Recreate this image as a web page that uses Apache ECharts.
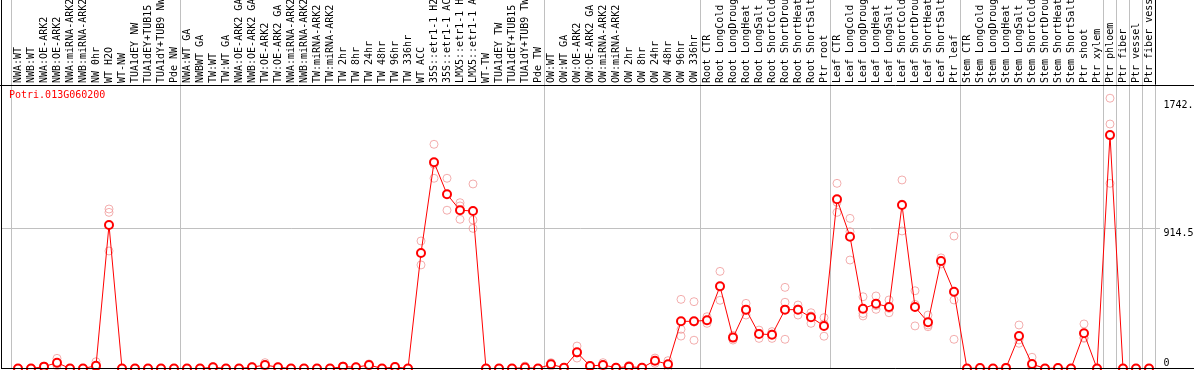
<!DOCTYPE html>
<html>
<head>
<meta charset="utf-8">
<script src="https://cdn.jsdelivr.net/npm/echarts@6/dist/echarts.min.js"></script>
<style>
html, body { margin: 0; padding: 0; background: #fff; }
#main { width: 1194px; height: 370px; }
</style>
</head>
<body>
<div id="main"></div>
<script>
var gene = 'Potri.013G060200';

var samples = [
  'NWA:WT', 'NWB:WT', 'NWA:OE-ARK2', 'NWB:OE-ARK2', 'NWA:miRNA-ARK2', 'NWB:miRNA-ARK2',
  'NW 0hr', 'WT H2O', 'WT-NW', 'TUA1dEY NW', 'TUA1dEY+TUB15 NW', 'TUA1dY+TUB9 NW', 'Pde NW',
  'NWA:WT GA', 'NWBWT GA', 'TW:WT', 'TW:WT GA', 'NWA:OE-ARK2 GA', 'NWB:OE-ARK2 GA',
  'TW:OE-ARK2', 'TW:OE-ARK2 GA', 'NWA:miRNA-ARK2 GA', 'NWB:miRNA-ARK2 GA', 'TW:miRNA-ARK2',
  'TW:miRNA-ARK2 GA', 'TW 2hr', 'TW 8hr', 'TW 24hr', 'TW 48hr', 'TW 96hr', 'TW 336hr', 'WT ACC',
  '35S::etr1-1 H2O', '35S::etr1-1 ACC', 'LMX5::etr1-1 H2O', 'LMX5::etr1-1 ACC', 'WT-TW',
  'TUA1dEY TW', 'TUA1dEY+TUB15 TW', 'TUA1dY+TUB9 TW', 'Pde TW',
  'OW:WT', 'OW:WT GA', 'OW:OE-ARK2', 'OW:OE-ARK2 GA', 'OW:miRNA-ARK2', 'OW:miRNA-ARK2 GA',
  'OW 2hr', 'OW 8hr', 'OW 24hr', 'OW 48hr', 'OW 96hr', 'OW 336hr',
  'Root CTR', 'Root LongCold', 'Root LongDrought', 'Root LongHeat', 'Root LongSalt',
  'Root ShortCold', 'Root ShortDrought', 'Root ShortHeat', 'Root ShortSalt', 'Ptr root',
  'Leaf CTR', 'Leaf LongCold', 'Leaf LongDrought', 'Leaf LongHeat', 'Leaf LongSalt',
  'Leaf ShortCold', 'Leaf ShortDrought', 'Leaf ShortHeat', 'Leaf ShortSalt', 'Ptr leaf',
  'Stem CTR', 'Stem LongCold', 'Stem LongDrought', 'Stem LongHeat', 'Stem LongSalt',
  'Stem ShortCold', 'Stem ShortDrought', 'Stem ShortHeat', 'Stem ShortSalt', 'Ptr shoot', 'Ptr xylem',
  'Ptr phloem', 'Ptr fiber', 'Ptr vessel', 'Ptr fiber vessel'
];

// samples per experiment block (gray separators)
var groupSizes = [13, 28, 12, 10, 10, 11, 1, 1, 1, 1];

var means = [
  0, 0, 12, 38, 0, 0, 18, 934, 0, 0, 0, 0, 0,
  0, 0, 8, 0, 0, 8, 23, 8, 0, 0, 0, 0, 12, 8, 23, 0, 10, 0, 752, 1342, 1134, 1030, 1025, 0, 0, 0, 6, 0,
  27, 5, 105, 16, 23, 5, 12, 5, 51, 27, 307, 307,
  314, 535, 201, 383, 225, 220, 383, 383, 333, 277,
  1101, 858, 389, 422, 400, 1064, 400, 301, 700, 499,
  0, 3, 0, 4, 211, 29, 0, 3, 0, 229, 0,
  1519, 0, 0, 0
];

var rep1 = [
  0, 0, 15, 66, 0, 0, 44, 1038, 0, 0, 0, 0, 0,
  0, 0, 12, 0, 0, 12, 38, 10, 0, 0, 0, 0, 16, 10, 30, 0, 14, 0, 830, 1459, 1238, 1079, 1201, 0, 0, 0, 16, 0,
  38, 8, 146, 20, 38, 8, 20, 8, 68, 51, 450, 435,
  337, 632, 215, 424, 250, 240, 528, 413, 363, 331,
  1205, 977, 467, 472, 446, 1227, 506, 348, 720, 862,
  0, 6, 0, 8, 283, 73, 0, 6, 0, 290, 0,
  1759, 0, 0, 0
];

var rep2 = [
  0, 0, 10, 30, 0, 0, 6, 1016, 0, 0, 0, 0, 0,
  0, 0, 8, 0, 0, 8, 20, 8, 0, 0, 0, 0, 12, 8, 23, 0, 10, 0, 752, 1329, 1134, 1058, 966, 0, 0, 0, 2, 0,
  27, 5, 101, 16, 20, 5, 12, 5, 51, 25, 255, 302,
  311, 530, 200, 378, 229, 224, 431, 388, 342, 290,
  1082, 890, 358, 409, 391, 1070, 417, 283, 700, 446,
  0, 3, 0, 4, 186, 10, 0, 3, 0, 201, 0,
  1591, 0, 0, 0
];

var rep3 = [
  0, 0, 11, 18, 0, 0, 4, 765, 0, 0, 0, 0, 0,
  0, 0, 4, 0, 0, 4, 11, 6, 0, 0, 0, 0, 8, 6, 16, 0, 6, 0, 674, 1238, 1030, 971, 912, 0, 0, 0, 0, 0,
  16, 2, 68, 12, 11, 2, 4, 2, 34, 5, 211, 184,
  294, 444, 185, 348, 196, 196, 190, 348, 294, 210,
  1016, 706, 342, 385, 363, 895, 277, 272, 680, 190,
  0, 0, 0, 0, 164, 4, 0, 0, 0, 196, 0,
  1205, 0, 0, 0
];

var yMax = 1845;
var yTicks = [0, 914.5, 1742.9];
var yTickText = ['0', '914.5', '1742.'];

var bounds = [0];
var acc = 0;
for (var g = 0; g < groupSizes.length; g++) {
  acc += groupSizes[g];
  bounds.push(acc);
}
function isBound(idx) {
  return bounds.indexOf(idx) >= 0;
}
function tickText(v) {
  for (var k = 0; k < yTicks.length; k++) {
    if (Math.abs(yTicks[k] - v) < 0.01) return yTickText[k];
  }
  return '';
}

var repData = [];
for (var i = 0; i < samples.length; i++) {
  repData.push([i, rep1[i]]);
  repData.push([i, rep2[i]]);
  repData.push([i, rep3[i]]);
}

var mono = 'DejaVu Sans Mono';
var gray = '#c0c0c0';

var myChart = echarts.init(document.getElementById('main'));

var option = {
  animation: false,
  backgroundColor: '#fff',
  title: {
    text: gene,
    left: 9,
    top: 90,
    padding: 0,
    textStyle: { color: '#ff0000', fontSize: 10, fontFamily: mono, fontWeight: 'normal' }
  },
  grid: [
    { left: 11.5, right: 38.5, top: 0, height: 85, outerBoundsMode: 'none' },
    { left: 11.5, right: 38.5, top: 85, bottom: 1.5, outerBoundsMode: 'none' },
    { left: 1.5, right: 34, top: 85, bottom: 1.5, outerBoundsMode: 'none' }
  ],
  xAxis: [
    {
      gridIndex: 0, type: 'category', data: samples, boundaryGap: true,
      axisLine: { show: false }, axisTick: { show: false }, axisLabel: { show: false },
      splitLine: { show: true, interval: isBound, lineStyle: { color: gray, width: 1 } }
    },
    {
      gridIndex: 1, type: 'category', data: samples, boundaryGap: true, position: 'top',
      axisLine: { show: false }, axisTick: { show: false },
      axisLabel: {
        interval: 0, rotate: 90, margin: 2, color: '#000',
        fontFamily: mono, fontSize: 10, hideOverlap: false
      },
      splitLine: { show: true, interval: isBound, lineStyle: { color: gray, width: 1 } }
    },
    {
      gridIndex: 2, type: 'value', min: 0, max: 1,
      axisLine: { show: false }, axisTick: { show: false }, axisLabel: { show: false },
      splitLine: { show: false }
    }
  ],
  yAxis: [
    {
      gridIndex: 0, type: 'value', min: 0, max: 1, position: 'right',
      axisLine: { show: true, lineStyle: { color: '#000' } },
      axisTick: { show: false }, axisLabel: { show: false }, splitLine: { show: false }
    },
    {
      gridIndex: 1, type: 'value', min: 0, max: yMax, position: 'right',
      axisLine: { show: true, lineStyle: { color: gray } },
      axisTick: { show: false }, splitLine: { show: false },
      axisLabel: {
        customValues: yTicks.slice(1), formatter: tickText, margin: 8,
        verticalAlign: 'top', color: '#000', fontFamily: mono, fontSize: 10
      }
    },
    {
      gridIndex: 1, type: 'value', min: 0, max: yMax, position: 'right',
      axisLine: { show: false }, axisTick: { show: false }, splitLine: { show: false },
      axisLabel: {
        customValues: yTicks.slice(0, 1), formatter: tickText, margin: 8,
        verticalAlign: 'bottom', color: '#000', fontFamily: mono, fontSize: 10
      }
    },
    {
      gridIndex: 2, type: 'value', min: 0, max: yMax, interval: yTicks[1],
      axisLine: { show: false }, axisTick: { show: false }, axisLabel: { show: false },
      splitLine: { show: true, lineStyle: { color: ['rgba(0,0,0,0)', gray], width: 1 } }
    }
  ],
  graphic: [
    { type: 'line', z: 100, shape: { x1: 1.5, y1: 0, x2: 1.5, y2: 369 }, style: { stroke: '#000', lineWidth: 1 } },
    { type: 'line', z: 100, shape: { x1: 0, y1: 85.5, x2: 1194, y2: 85.5 }, style: { stroke: '#000', lineWidth: 1 } },
    { type: 'line', z: 100, shape: { x1: 1.5, y1: 368.5, x2: 1194, y2: 368.5 }, style: { stroke: '#000', lineWidth: 1 } }
  ],
  series: [
    {
      name: 'replicates',
      type: 'scatter',
      xAxisIndex: 1, yAxisIndex: 1,
      data: repData,
      symbol: 'circle',
      symbolSize: 8,
      z: 2,
      itemStyle: { color: 'rgba(0,0,0,0)', borderColor: '#f09a9a', borderWidth: 1 }
    },
    {
      name: 'mean',
      type: 'line',
      xAxisIndex: 1, yAxisIndex: 1,
      data: means,
      symbol: 'emptyCircle',
      symbolSize: 8,
      showAllSymbol: true,
      z: 3,
      lineStyle: { color: '#ff0000', width: 1 },
      itemStyle: { color: '#ff0000', borderWidth: 1.2 }
    }
  ]
};
myChart.setOption(option);
</script>
</body>
</html>
